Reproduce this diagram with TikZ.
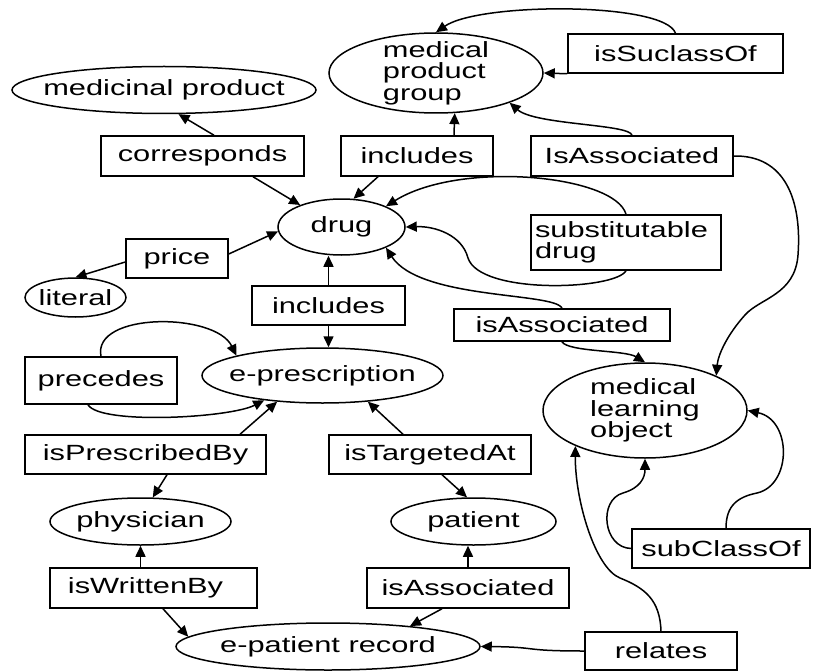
\documentclass[tikz,border=0pt]{standalone}
\usepackage{fontspec}
\newfontfamily\lab[FakeStretch=1.4]{Liberation Sans}
\usetikzlibrary{shapes.geometric,arrows.meta}
\begin{document}
\begin{tikzpicture}[x=1pt,y=-1pt,
  lbl/.style={font=\lab\fontsize{22}{21.5}\selectfont, draw=black, line width=1.5pt},
  rbox/.style={lbl, rectangle, inner sep=0pt, align=center},
  oval/.style={lbl, ellipse, inner xsep=-40pt, inner ysep=-14pt, align=center},
  arr/.style={line width=1.5pt, -{Triangle[length=11pt,width=10pt]}},
  ]
\useasboundingbox (0,0) rectangle (813,671);
% nodes
\node[oval, minimum width=214pt, minimum height=80pt, align=left] (mpg) at (436,73) {medical\\product\\group};
\node[rbox, minimum width=215pt, minimum height=39pt] (isc) at (675.5,53.5) {isSuclassOf};
\node[oval, minimum width=304pt, minimum height=47pt] (mp) at (164,90) {medicinal product};
\node[rbox, minimum width=203pt, minimum height=40pt] (corr) at (202.5,156) {corresponds};
\node[rbox, minimum width=152pt, minimum height=40pt] (inct) at (417,156) {includes};
\node[rbox, minimum width=202pt, minimum height=40pt] (iat) at (632,156) {IsAssociated};
\node[oval, minimum width=127pt, minimum height=56pt] (drug) at (341.5,227) {drug};
\node[rbox, text width=182pt, inner xsep=4pt, minimum height=55pt, align=left] (subst) at (626,242.5) {substitutable\\drug};
\node[rbox, minimum width=102pt, minimum height=39pt] (price) at (177,258.5) {price};
\node[oval, minimum width=101pt, minimum height=39pt] (lit) at (75.5,297.5) {literal};
\node[rbox, minimum width=153pt, minimum height=39pt] (incm) at (328.5,305.5) {includes};
\node[rbox, minimum width=216pt, minimum height=32pt] (iam) at (562,325) {isAssociated};
\node[rbox, minimum width=152pt, minimum height=47pt] (prec) at (101,380.5) {precedes};
\node[oval, minimum width=241pt, minimum height=55pt] (epres) at (322.5,375.5) {e-prescription};
\node[rbox, minimum width=241pt, minimum height=39pt] (ipb) at (145.5,454.5) {isPrescribedBy};
\node[rbox, minimum width=202pt, minimum height=39pt] (ita) at (430,454.5) {isTargetedAt};
\node[oval, minimum width=204pt, minimum height=95pt, align=left] (mlo) at (645,410.5) {medical\\learning\\object};
\node[oval, minimum width=181pt, minimum height=47pt] (phys) at (140.5,521.5) {physician};
\node[oval, minimum width=165pt, minimum height=47pt] (pat) at (473.5,521.5) {patient};
\node[rbox, minimum width=207pt, minimum height=40pt] (iwb) at (153.5,588) {isWrittenBy\hspace*{16pt}};
\node[rbox, minimum width=202pt, minimum height=40pt] (iab) at (468,588) {isAssociated};
\node[rbox, minimum width=178pt, minimum height=39pt] (sco) at (721,548.5) {subClassOf};
\node[oval, minimum width=304pt, minimum height=47pt] (epr) at (328,646.5) {e-patient record};
\node[rbox, minimum width=152pt, minimum height=38pt] (rel) at (661,651) {relates};
% connectors
\draw[arr] ([xshift=11.5pt]corr.north) -- (mp.-59);
\draw[arr] ([xshift=50.5pt]corr.south) -- (drug.152.5);
\draw[arr] ([xshift=-39pt]inct.south) -- (drug.67.7);
\draw[arr] ([xshift=37pt]inct.north) -- (mpg.-65.4);
\draw[arr] (isc.south west) -- (mpg.east);
\draw[arr] (isc.north) .. controls (665,2) and (480,2) .. (mpg.north);
\draw[arr] (iat.north) .. controls (630,124) and (535,125) .. (mpg.-22.2);
\draw[arr] (iat.east) .. controls (785,155) and (802,200) .. (798,255) .. controls (795,295) and (760,298) .. (745,315) .. controls (727,335) and (718,355) .. (mlo.26.2);
\draw[arr] (subst.north) .. controls (615,175) and (460,160) .. (drug.25.8);
\draw[arr] (subst.south) .. controls (615,290) and (480,295) .. (468,258) .. controls (462,235) and (435,226) .. (drug.east);
\draw[arr] ([yshift=4.5pt]price.east) -- (drug.184.5);
\draw[arr] ([yshift=-3.5pt]price.west) -- (lit.north);
\draw[arr] (incm.north) -- (incm.north |- drug.south);
\draw[arr] (incm.south) -- (incm.south |- epres.north);
\draw[arr] (iam.north) .. controls (555,292) and (420,300) .. (drug.-25.8);
\draw[arr] (iam.south) .. controls (568,352) and (625,350) .. (mlo.north);
\draw[arr] (prec.north) .. controls (92,312) and (215,312) .. (epres.167.2);
\draw[arr] ([xshift=-13pt]prec.south) .. controls (100,425) and (230,418) .. (epres.203.3);
\draw[arr] ([xshift=94.5pt]ipb.north) -- (epres.210);
\draw[arr] ([xshift=21.5pt]ipb.south) -- (phys.63.7);
\draw[arr] ([xshift=-27pt]ita.north) -- (epres.-30);
\draw[arr] ([xshift=12pt]ita.south) -- (pat.105.5);
\draw[arr] (iwb.north -| phys.south) -- (phys.south);
\draw[arr] ([xshift=9.5pt]iwb.south) -- (epr.176.3);
\draw[arr] (iab.north) -- (iab.north |- pat.south);
\draw[arr] ([xshift=-26pt]iab.south) -- (epr.14.8);
\draw[arr] (rel.west) .. controls (520,651) and (540,647) .. (epr.east);
\draw[arr] (rel.north) .. controls (660,600) and (645,588) .. (620,578) .. controls (595,568) and (575,500) .. (mlo.207.2);
\draw[arr] (sco.west) .. controls (603,548) and (598,500) .. (623,493) .. controls (640,488) and (645,478) .. (mlo.south);
\draw[arr] ([xshift=5pt]sco.north) .. controls (726,505) and (738,497) .. (757,493) .. controls (792,485) and (792,420) .. (mlo.east);
\end{tikzpicture}
\end{document}
